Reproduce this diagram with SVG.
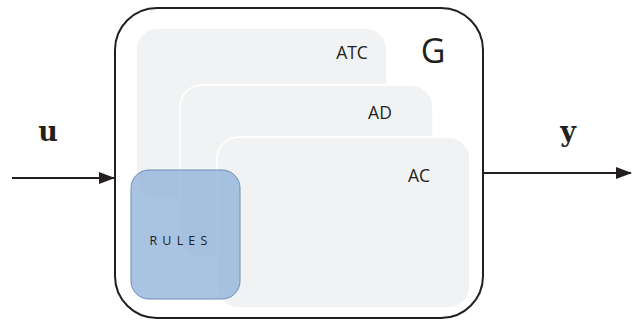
<svg xmlns="http://www.w3.org/2000/svg" width="634" height="321" viewBox="0 0 634 321">
<style>
.layer{fill:#f1f2f3;stroke:#ffffff;stroke-width:1.5}
.lbl{font-family:"Open Sans","Liberation Sans",sans-serif;font-size:17.5px;fill:#231f20}
.io{font-family:"DejaVu Serif","Liberation Serif",serif;font-weight:bold;font-size:27px;fill:#231f20}
.conn{stroke:#231f20;stroke-width:2;fill:none}
</style>
<defs>
<marker id="arr" markerWidth="16" markerHeight="12" refX="15" refY="6" orient="auto" markerUnits="userSpaceOnUse">
<path d="M0,0 L16,6 L0,12 Z" fill="#231f20"/>
</marker>
</defs>
<rect width="634" height="321" fill="#ffffff"/>
<g id="G">
<rect x="115" y="8" width="368" height="310" rx="42" ry="42" fill="#ffffff" stroke="#231f20" stroke-width="2"/>
<text x="433" y="63" text-anchor="middle" font-family="Open Sans,Liberation Sans,sans-serif" font-size="34" fill="#231f20">G</text>
</g>
<g id="ATC">
<rect class="layer" x="136" y="28" width="251" height="171" rx="22" ry="22" stroke="none"/>
<text class="lbl" x="352" y="59" text-anchor="middle">ATC</text>
</g>
<g id="AD">
<rect class="layer" x="180" y="85" width="253" height="172" rx="22" ry="22"/>
<text class="lbl" x="380" y="119" text-anchor="middle">AD</text>
</g>
<g id="AC">
<rect class="layer" x="217" y="137" width="253" height="171" rx="22" ry="22"/>
<text class="lbl" x="419" y="182" text-anchor="middle">AC</text>
</g>
<g id="RULES">
<rect x="131" y="170" width="109" height="129" rx="18" ry="18" fill="#8cafd8" fill-opacity="0.75" stroke="#6f8fb5" stroke-width="1"/>
<text x="181" y="245" text-anchor="middle" font-family="Open Sans,Liberation Sans,sans-serif" font-size="12.5" letter-spacing="5.2" fill="#231f20">RULES</text>
</g>
<g id="connectors">
<line class="conn" x1="12" y1="178" x2="114" y2="178" marker-end="url(#arr)"/>
<line class="conn" x1="484" y1="173" x2="631" y2="173" marker-end="url(#arr)"/>
</g>
<text class="io" x="48" y="141" text-anchor="middle">u</text>
<text class="io" x="568" y="141" text-anchor="middle">y</text>
</svg>
